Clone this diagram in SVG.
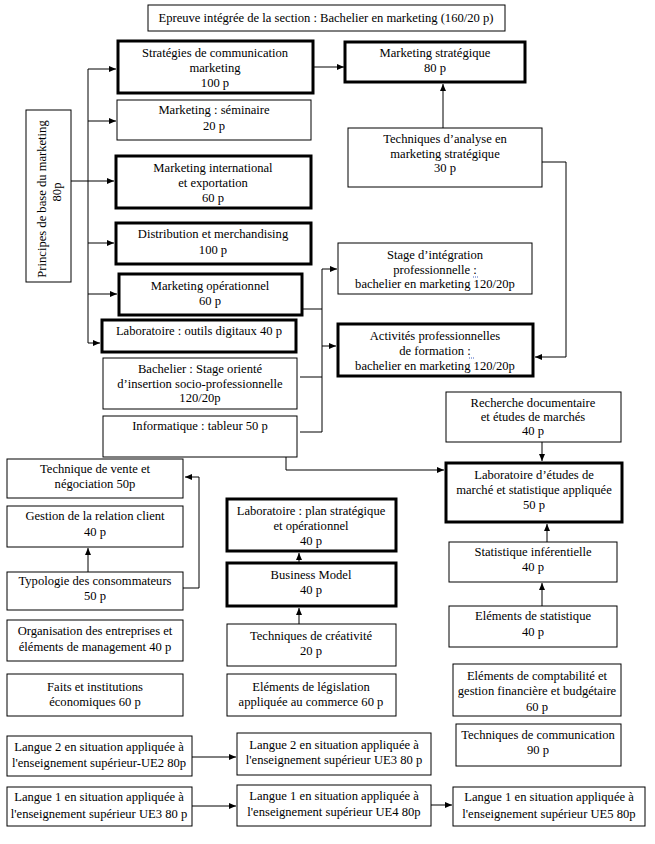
<svg xmlns="http://www.w3.org/2000/svg" width="655" height="844" viewBox="0 0 655 844">
<style>
rect{fill:#fff;stroke:#000}
.n rect{stroke-width:1}
.k rect{stroke-width:3}
text{font-family:"Liberation Serif","Times New Roman",serif;font-size:12.6px;fill:#000;text-anchor:middle}
#connectors path,#connectors line{fill:none;stroke:#000;stroke-width:1}
</style>
<defs>
<marker id="a" markerWidth="8" markerHeight="8" refX="7" refY="4" orient="auto" markerUnits="userSpaceOnUse">
<path d="M0,1 L7,4 L0,7 z" fill="#000"/>
</marker>
</defs>
<rect x="0" y="0" width="655" height="844" style="fill:#fff;stroke:none"/>
<g id="connectors">
<line x1="313" y1="67" x2="344" y2="67" marker-end="url(#a)"/>
<line x1="443" y1="128" x2="443" y2="84" marker-end="url(#a)"/>
<path d="M542,162 H566 V357 H535" marker-end="url(#a)"/>
<line x1="88" y1="69" x2="88" y2="343"/>
<line x1="71" y1="181" x2="88" y2="181"/>
<line x1="88" y1="69" x2="116" y2="69" marker-end="url(#a)"/>
<line x1="88" y1="121" x2="116" y2="121" marker-end="url(#a)"/>
<line x1="88" y1="181" x2="114" y2="181" marker-end="url(#a)"/>
<line x1="88" y1="243" x2="114" y2="243" marker-end="url(#a)"/>
<line x1="88" y1="294" x2="117" y2="294" marker-end="url(#a)"/>
<line x1="88" y1="343" x2="100" y2="343" marker-end="url(#a)"/>
<line x1="302" y1="309" x2="322" y2="309"/>
<line x1="322" y1="269" x2="322" y2="432"/>
<line x1="322" y1="269" x2="337" y2="269" marker-end="url(#a)"/>
<line x1="322" y1="346" x2="336" y2="346" marker-end="url(#a)"/>
<line x1="300" y1="377" x2="322" y2="377"/>
<line x1="300" y1="432" x2="322" y2="432"/>
<path d="M286,452 V470 H444" marker-end="url(#a)"/>
<path d="M183,588 H199 V477 H185" marker-end="url(#a)"/>
<line x1="88" y1="572" x2="88" y2="548" marker-end="url(#a)"/>
<line x1="299" y1="563" x2="299" y2="553" marker-end="url(#a)"/>
<line x1="299" y1="624" x2="299" y2="608" marker-end="url(#a)"/>
<line x1="542" y1="442" x2="542" y2="461" marker-end="url(#a)"/>
<line x1="547" y1="542" x2="547" y2="524" marker-end="url(#a)"/>
<line x1="542" y1="606" x2="542" y2="583" marker-end="url(#a)"/>
<line x1="192" y1="757" x2="236" y2="757" marker-end="url(#a)"/>
<line x1="192" y1="806" x2="236" y2="806" marker-end="url(#a)"/>
<line x1="431" y1="805" x2="452" y2="805" marker-end="url(#a)"/>
</g>
<g id="epreuve" class="n"><rect x="148" y="5" width="357" height="26"/><text x="326" y="22">Epreuve intégrée de la section : Bachelier en marketing (160/20 p)</text></g>
<g id="principes" class="n"><rect x="26" y="110" width="45" height="172"/><text transform="translate(46,199) rotate(-90)">Principes de base du marketing</text><text transform="translate(61,192) rotate(-90)">80p</text></g>
<g id="strategies" class="k"><rect x="118" y="41" width="195" height="52"/><text x="215" y="57">Stratégies de communication</text><text x="215" y="72">marketing</text><text x="215" y="87">100 p</text></g>
<g id="mstrat" class="k"><rect x="345" y="42" width="180" height="40"/><text x="435" y="57">Marketing stratégique</text><text x="435" y="72">80 p</text></g>
<g id="seminaire" class="n"><rect x="117" y="100" width="194" height="40"/><text x="214" y="114">Marketing : séminaire</text><text x="214" y="130">20 p</text></g>
<g id="tanalyse" class="n"><rect x="348" y="128" width="194" height="59"/><text x="445" y="143">Techniques d’analyse en</text><text x="445" y="158">marketing stratégique</text><text x="445" y="172">30 p</text></g>
<g id="intl" class="k"><rect x="116" y="156" width="195" height="52"/><text x="213" y="172">Marketing international</text><text x="213" y="187">et exportation</text><text x="213" y="202">60 p</text></g>
<g id="distrib" class="k"><rect x="116" y="223" width="195" height="41"/><text x="213" y="238">Distribution et merchandising</text><text x="213" y="254">100 p</text></g>
<g id="stage" class="n"><rect x="338" y="243" width="194" height="51"/><text x="435" y="259">Stage d’intégration</text><text x="435" y="274">professionnelle :</text><text x="435" y="288">bachelier en marketing 120/20p</text><path d="M473,277 h1 m1,0 h1 m1,0 h1" style="stroke:#4060c0;stroke-width:1"/></g>
<g id="operationnel" class="k"><rect x="119" y="274" width="183" height="41"/><text x="210" y="290">Marketing opérationnel</text><text x="210" y="305">60 p</text></g>
<g id="labodigit" class="k"><rect x="102" y="320" width="194" height="32"/><text x="199" y="335">Laboratoire : outils digitaux 40 p</text></g>
<g id="activites" class="k"><rect x="338" y="324" width="195" height="52"/><text x="435" y="340">Activités professionnelles</text><text x="435" y="355">de formation :</text><text x="435" y="370">bachelier en marketing 120/20p</text><path d="M469,358 h1 m1,0 h1 m1,0 h1" style="stroke:#4060c0;stroke-width:1"/></g>
<g id="bachelier" class="n"><rect x="103" y="358" width="194" height="51"/><text x="200" y="373">Bachelier : Stage orienté</text><text x="200" y="388">d’insertion socio-professionnelle</text><text x="200" y="402">120/20p</text></g>
<g id="informatique" class="n"><rect x="103" y="416" width="194" height="41"/><text x="200" y="430">Informatique : tableur 50 p</text></g>
<g id="recherche" class="n"><rect x="446" y="392" width="175" height="50"/><text x="533" y="407">Recherche documentaire</text><text x="533" y="421">et études de marchés</text><text x="533" y="435">40 p</text></g>
<g id="vente" class="n"><rect x="7" y="459" width="176" height="39"/><text x="95" y="473">Technique de vente et</text><text x="95" y="488">négociation 50p</text></g>
<g id="laboetudes" class="k"><rect x="446" y="463" width="176" height="59"/><text x="534" y="479">Laboratoire d’études de</text><text x="534" y="494">marché et statistique appliquée</text><text x="534" y="509">50 p</text></g>
<g id="laboplan" class="k"><rect x="227" y="499" width="169" height="52"/><text x="311" y="515">Laboratoire : plan stratégique</text><text x="311" y="530">et opérationnel</text><text x="311" y="545">40 p</text></g>
<g id="gestion" class="n"><rect x="7" y="506" width="176" height="41"/><text x="95" y="520">Gestion de la relation client</text><text x="95" y="536">40 p</text></g>
<g id="statinf" class="n"><rect x="449" y="542" width="168" height="40"/><text x="533" y="556">Statistique inférentielle</text><text x="533" y="571">40 p</text></g>
<g id="bm" class="k"><rect x="227" y="563" width="169" height="43"/><text x="311" y="579">Business Model</text><text x="311" y="594">40 p</text></g>
<g id="typologie" class="n"><rect x="7" y="572" width="176" height="38"/><text x="95" y="585">Typologie des consommateurs</text><text x="95" y="600">50 p</text></g>
<g id="elemstat" class="n"><rect x="449" y="606" width="168" height="41"/><text x="533" y="620">Eléments de statistique</text><text x="533" y="636">40 p</text></g>
<g id="organisation" class="n"><rect x="7" y="620" width="176" height="41"/><text x="95" y="635">Organisation des entreprises et</text><text x="95" y="651">éléments de management 40 p</text></g>
<g id="creativite" class="n"><rect x="227" y="624" width="169" height="42"/><text x="311" y="640">Techniques de créativité</text><text x="311" y="655">20 p</text></g>
<g id="faits" class="n"><rect x="7" y="674" width="176" height="42"/><text x="95" y="691">Faits et institutions</text><text x="95" y="706">économiques 60 p</text></g>
<g id="legislation" class="n"><rect x="227" y="674" width="169" height="42"/><text x="311" y="691">Eléments de législation</text><text x="311" y="706">appliquée au commerce 60 p</text></g>
<g id="compta" class="n"><rect x="453" y="664" width="168" height="52"/><text x="537" y="680">Eléments de comptabilité et</text><text x="537" y="695">gestion financière et budgétaire</text><text x="537" y="711">60 p</text></g>
<g id="tcom" class="n"><rect x="456" y="724" width="165" height="42"/><text x="538" y="739">Techniques de communication</text><text x="538" y="754">90 p</text></g>
<g id="l2ue2" class="n"><rect x="7" y="736" width="185" height="40"/><text x="99" y="751">Langue 2 en situation appliquée à</text><text x="99" y="767">l'enseignement supérieur-UE2 80p</text></g>
<g id="l2ue3" class="n"><rect x="237" y="733" width="194" height="42"/><text x="334" y="749">Langue 2 en situation appliquée à</text><text x="334" y="764">l'enseignement supérieur UE3 80 p</text></g>
<g id="l1ue3" class="n"><rect x="7" y="787" width="185" height="39"/><text x="99" y="801">Langue 1 en situation appliquée à</text><text x="99" y="818">l'enseignement supérieur UE3 80 p</text></g>
<g id="l1ue4" class="n"><rect x="237" y="785" width="194" height="41"/><text x="334" y="800">Langue 1 en situation appliquée à</text><text x="334" y="816">l'enseignement supérieur UE4 80p</text></g>
<g id="l1ue5" class="n"><rect x="453" y="787" width="192" height="39"/><text x="549" y="801">Langue 1 en situation appliquée à</text><text x="549" y="818">l'enseignement supérieur UE5 80p</text></g>
</svg>
